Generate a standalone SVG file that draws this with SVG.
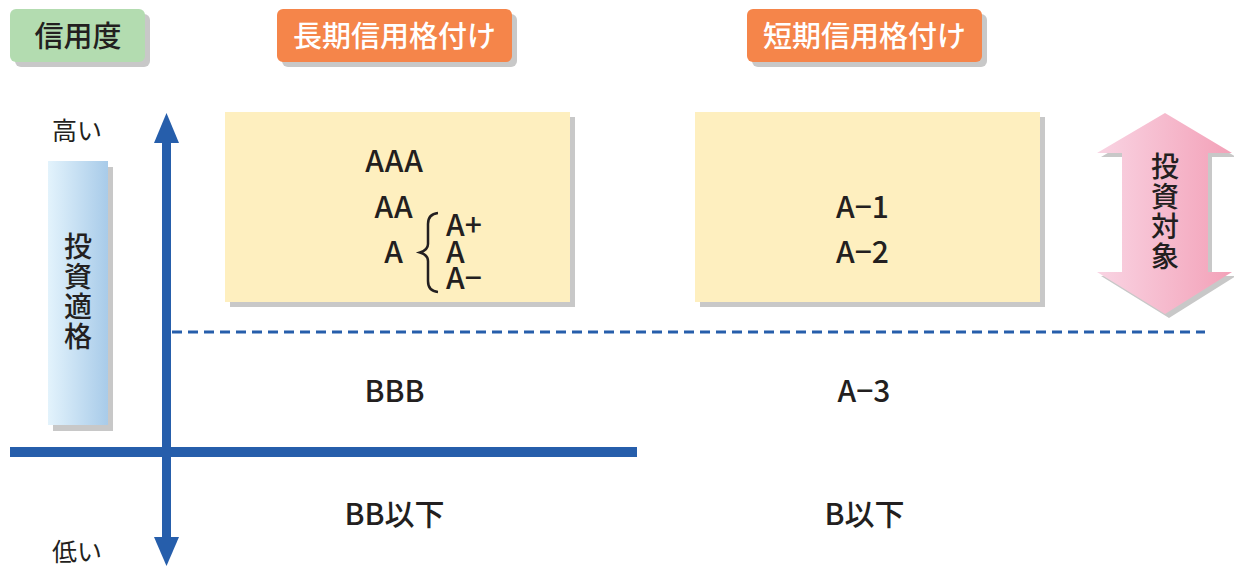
<svg xmlns="http://www.w3.org/2000/svg" width="1234" height="566" viewBox="0 0 1234 566">
<defs>
<linearGradient id="gBlue" x1="0" y1="0" x2="1" y2="0">
<stop offset="0" stop-color="#e3f3fc"/>
<stop offset="1" stop-color="#a8cbe9"/>
</linearGradient>
<linearGradient id="gPink" x1="0" y1="0" x2="1" y2="0">
<stop offset="0" stop-color="#f9d4e3"/>
<stop offset="1" stop-color="#f3a1b8"/>
</linearGradient>
<style>
.sh{fill:#c8c8c8}
.jp{font-family:"Noto Sans CJK JP","Noto Sans",sans-serif;fill:#231f20}
.hd{font-size:29px;text-anchor:middle;font-weight:500}
.wt{fill:#ffffff}
.vt{font-size:28px;font-weight:500;writing-mode:vertical-rl;letter-spacing:2px}
.rt{font-family:"Noto Sans CJK JP","Noto Sans",sans-serif;font-size:30px;font-weight:500;fill:#231f20}
.mid{text-anchor:middle}
.blue{fill:#265eab}
</style>
</defs>
<rect width="1234" height="566" fill="#ffffff"/>

<g id="header-credit">
<rect class="sh" x="15" y="14" width="135" height="53" rx="6"/>
<rect x="10" y="9" width="135" height="53" rx="6" fill="#b3dcb0"/>
<text class="jp hd" x="78" y="47">信用度</text>
</g>
<g id="header-long">
<rect class="sh" x="282" y="14" width="235" height="53" rx="6"/>
<rect x="277" y="9" width="235" height="53" rx="6" fill="#f5854a"/>
<text class="jp hd wt" x="394.5" y="47">長期信用格付け</text>
</g>
<g id="header-short">
<rect class="sh" x="752" y="14" width="235" height="53" rx="6"/>
<rect x="747" y="9" width="235" height="53" rx="6" fill="#f5854a"/>
<text class="jp hd wt" x="864.5" y="47">短期信用格付け</text>
</g>

<g id="label-high"><text class="jp" x="52" y="140" font-size="25">高い</text></g>
<g id="label-low"><text class="jp" x="52" y="561" font-size="25">低い</text></g>

<g id="investment-grade">
<rect class="sh" x="53" y="167" width="60" height="264"/>
<rect x="48" y="161" width="60" height="264" fill="url(#gBlue)"/>
<text class="jp vt" x="78" y="232">投資適格</text>
</g>

<g id="long-box">
<rect class="sh" x="230" y="117" width="345" height="190"/>
<rect x="225" y="112" width="345" height="190" fill="#feefbf"/>
<text class="rt mid" x="394.5" y="172" letter-spacing="1">AAA</text>
<text class="rt mid" x="394" y="218" letter-spacing="1">AA</text>
<text class="rt mid" x="393.5" y="263">A</text>
<path d="M438 213 Q428 214 428 224 L428 244 Q428 250 420 252.5 Q428 255 428 261 L428 281 Q428 291 438 292" fill="none" stroke="#231f20" stroke-width="2.5"/>
<text class="rt" x="446" y="236"><tspan x="446" y="236">A+</tspan><tspan x="446" y="263">A</tspan><tspan x="446" y="289">A−</tspan></text>
</g>

<g id="short-box">
<rect class="sh" x="700" y="117" width="345" height="190"/>
<rect x="695" y="112" width="345" height="190" fill="#feefbf"/>
<text class="rt mid" x="862.5" y="218">A−1</text>
<text class="rt mid" x="862.5" y="263">A−2</text>
</g>

<g id="investment-target">
<polygon class="sh" points="1169,117 1236,157 1212,157 1212,276 1236,276 1169,318 1101,276 1126,276 1126,157 1101,157"/>
<polygon fill="url(#gPink)" points="1165,113 1232,153 1208,153 1208,272 1232,272 1165,314 1097,272 1122,272 1122,153 1097,153"/>
<text class="jp vt" x="1165" y="152">投資対象</text>
</g>

<g id="rating-bbb"><text class="rt mid" x="394.5" y="402">BBB</text></g>
<g id="rating-a3"><text class="rt mid" x="864" y="402">A−3</text></g>
<g id="rating-bb"><text class="rt mid" x="394.5" y="525">BB以下</text></g>
<g id="rating-b"><text class="rt mid" x="864.5" y="525">B以下</text></g>

<g id="connectors">
<line x1="172" y1="332" x2="1205" y2="332" stroke="#265eab" stroke-width="3" stroke-dasharray="10 6"/>
<rect class="blue" x="10" y="447" width="627" height="10"/>
<rect class="blue" x="162" y="140" width="9" height="400"/>
<polygon class="blue" points="166.5,113 179,143 154,143"/>
<polygon class="blue" points="154,537 179,537 166.5,566"/>
</g>
</svg>
